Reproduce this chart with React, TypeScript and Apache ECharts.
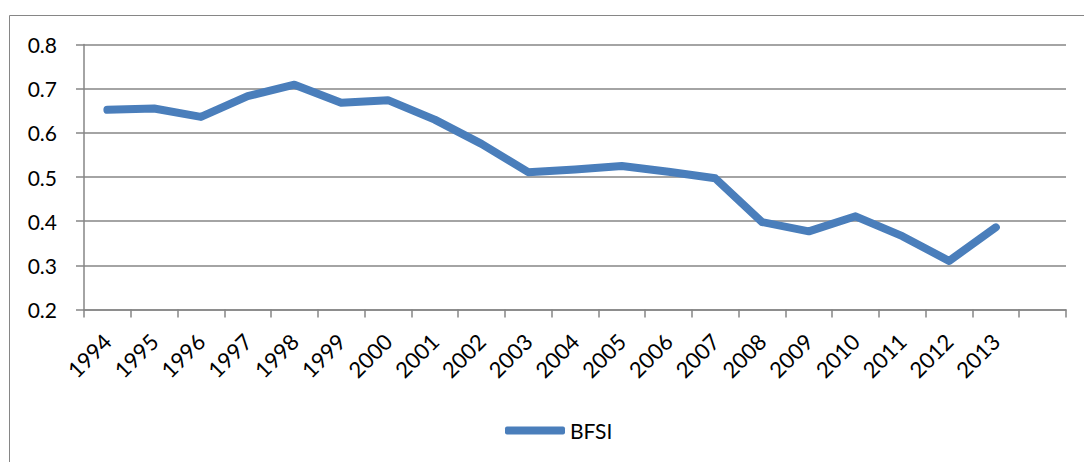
import React, { useEffect, useRef } from "react";
import * as echarts from "echarts";

const categories = [
  "1994", "1995", "1996", "1997", "1998", "1999", "2000", "2001", "2002", "2003",
  "2004", "2005", "2006", "2007", "2008", "2009", "2010", "2011", "2012", "2013", "",
];
const bfsi = [
  0.652, 0.655, 0.636, 0.683, 0.709, 0.668, 0.674, 0.630, 0.575, 0.511,
  0.517, 0.525, 0.512, 0.497, 0.398, 0.377, 0.411, 0.366, 0.310, 0.386, null,
];
const seriesName = "BFSI";
const yMin = 0.2;
const yMax = 0.8;
const yStep = 0.1;

const FONT = "Lato, 'Open Sans', sans-serif";
const GRID_COLOR = "#868686";
const LINE_COLOR = "#4a7ebb";

export default function App() {
  const ref = useRef<HTMLDivElement>(null);
  useEffect(() => {
    if (!ref.current) return;
    const chart = echarts.init(ref.current, null, { renderer: "svg" });
    chart.setOption({
      animation: false,
      backgroundColor: "#ffffff",
      graphic: [
        {
          type: "rect",
          shape: { x: 9.5, y: 15.5, width: 1100, height: 470 },
          style: { fill: "none", stroke: GRID_COLOR, lineWidth: 1 },
          silent: true,
        },
      ],
      grid: { left: 84, right: 18, top: 44.5, bottom: 152.5, containLabel: false },
      legend: {
        left: 500,
        top: 415,
        icon: "roundRect",
        itemWidth: 60,
        itemHeight: 8,
        itemGap: 10,
        textStyle: { fontFamily: FONT, fontSize: 21, color: "#000" },
        data: [seriesName],
      },
      xAxis: {
        type: "category",
        data: categories,
        boundaryGap: true,
        axisLine: { show: true, lineStyle: { color: GRID_COLOR, width: 1.5 } },
        axisTick: { show: true, alignWithLabel: false, length: 8, lineStyle: { color: GRID_COLOR, width: 1.5 } },
        axisLabel: {
          rotate: 45,
          interval: 0,
          margin: 28,
          fontFamily: FONT,
          fontSize: 22,
          color: "#000",
        },
        splitLine: { show: false },
      },
      yAxis: {
        type: "value",
        min: yMin,
        max: yMax,
        interval: yStep,
        axisLine: { show: true, lineStyle: { color: GRID_COLOR, width: 1.5 } },
        axisTick: { show: true, length: 8, lineStyle: { color: GRID_COLOR, width: 1.5 } },
        axisLabel: {
          margin: 27,
          fontFamily: FONT,
          fontSize: 21,
          color: "#000",
          formatter: (v: number) => v.toFixed(1),
        },
        splitLine: { show: true, lineStyle: { color: GRID_COLOR, width: 1.5 } },
      },
      series: [
        {
          name: seriesName,
          type: "line",
          data: bfsi,
          showSymbol: false,
          symbol: "none",
          lineStyle: { color: LINE_COLOR, width: 8, cap: "round", join: "round" },
          itemStyle: { color: LINE_COLOR },
        },
      ],
    });
    return () => chart.dispose();
  }, []);
  return (
    <div style={{ position: "fixed", left: 0, top: 0, width: 1084, height: 462, background: "#fff" }}>
      <div ref={ref} style={{ width: 1084, height: 462 }} />
    </div>
  );
}
